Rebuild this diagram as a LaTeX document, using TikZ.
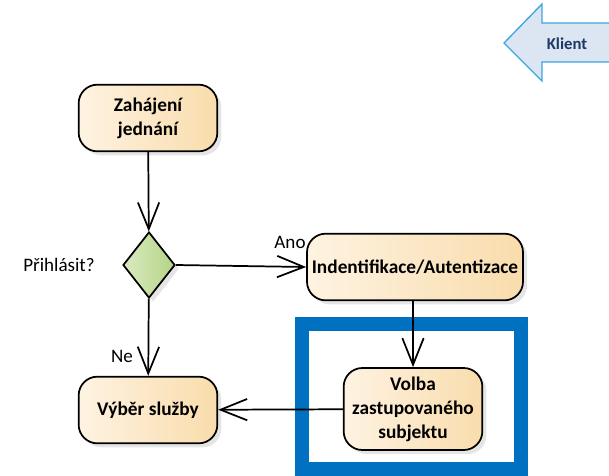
\documentclass[tikz,border=0pt]{standalone}
\usepackage{fontspec}
\setmainfont{Carlito}
\usetikzlibrary{shapes.geometric,shadows,arrows.meta}

\definecolor{actleft}{HTML}{FEF3E2}
\definecolor{actright}{HTML}{F9DCAC}
\definecolor{decleft}{HTML}{D9EAC0}
\definecolor{decright}{HTML}{B5D487}
\definecolor{frameblue}{HTML}{0070C0}
\definecolor{klientfill}{HTML}{DCE6F2}
\definecolor{klientline}{HTML}{3DA5E0}
\definecolor{klienttext}{HTML}{1F3864}

\begin{document}
\begin{tikzpicture}[x=0.75pt,y=-0.75pt,
  act/.style={draw, line width=1.3pt, rounded corners=14pt,
    left color=actleft, right color=actright,
    drop shadow={shadow xshift=3pt, shadow yshift=-3pt, fill=black!20, opacity=.5},
    font=\bfseries\fontsize{14.5}{18}\selectfont, align=center,
    minimum width=104pt, minimum height=50pt, inner sep=0pt},
  decision/.style={diamond, draw, line width=1.3pt,
    left color=decleft, right color=decright,
    drop shadow={shadow xshift=3pt, shadow yshift=-3pt, fill=black!20, opacity=.5},
    minimum width=39pt, minimum height=49.5pt, inner sep=0pt},
  flow/.style={line width=1.3pt, -{Straight Barb[length=20pt, width=16pt, line width=1.3pt]}},
  lbl/.style={font=\fontsize{14.3}{18}\selectfont}]

\useasboundingbox (0,0) rectangle (609,475);

% frame around the chosen step
\draw [frameblue, line width=10.5pt] (302,324) rectangle (521,469);

% swimlane arrow
\draw [klientline, fill=klientfill, line width=1pt]
  (612,23) -- (542,23) -- (542,4) -- (504,43) -- (542,81) -- (542,62) -- (612,62) -- cycle;
\node [klienttext, font=\bfseries\fontsize{12.5}{15}\selectfont] (klient) at (567,44) {Klient};

\node [act] (zahajeni) at (148,118) {Zahájení\\jednání};
\node [decision] (prihlasit) at (149,265) {};
\node [act, minimum width=162pt] (ident) at (415,267) {Indentifikace/Autentizace};
\node [act, minimum height=61.5pt] (volba) at (413,409) {Volba\\zastupovaného\\subjektu};
\node [act] (vyber) at (148,410) {Výběr služby};

\node [lbl] (otazka) at (59,265) {Přihlásit?};
\node [lbl] (ano) at (290,242) {Ano};
\node [lbl] (ne) at (122,356) {Ne};

\draw [flow] (zahajeni) -- (prihlasit);
\draw [flow] (prihlasit.east) -- (ident.west);
\draw [flow] (prihlasit) -- (vyber);
\draw [flow] (ident.south -| volba) -- (volba);
\draw [flow] (volba) -- (vyber);
\end{tikzpicture}
\end{document}
